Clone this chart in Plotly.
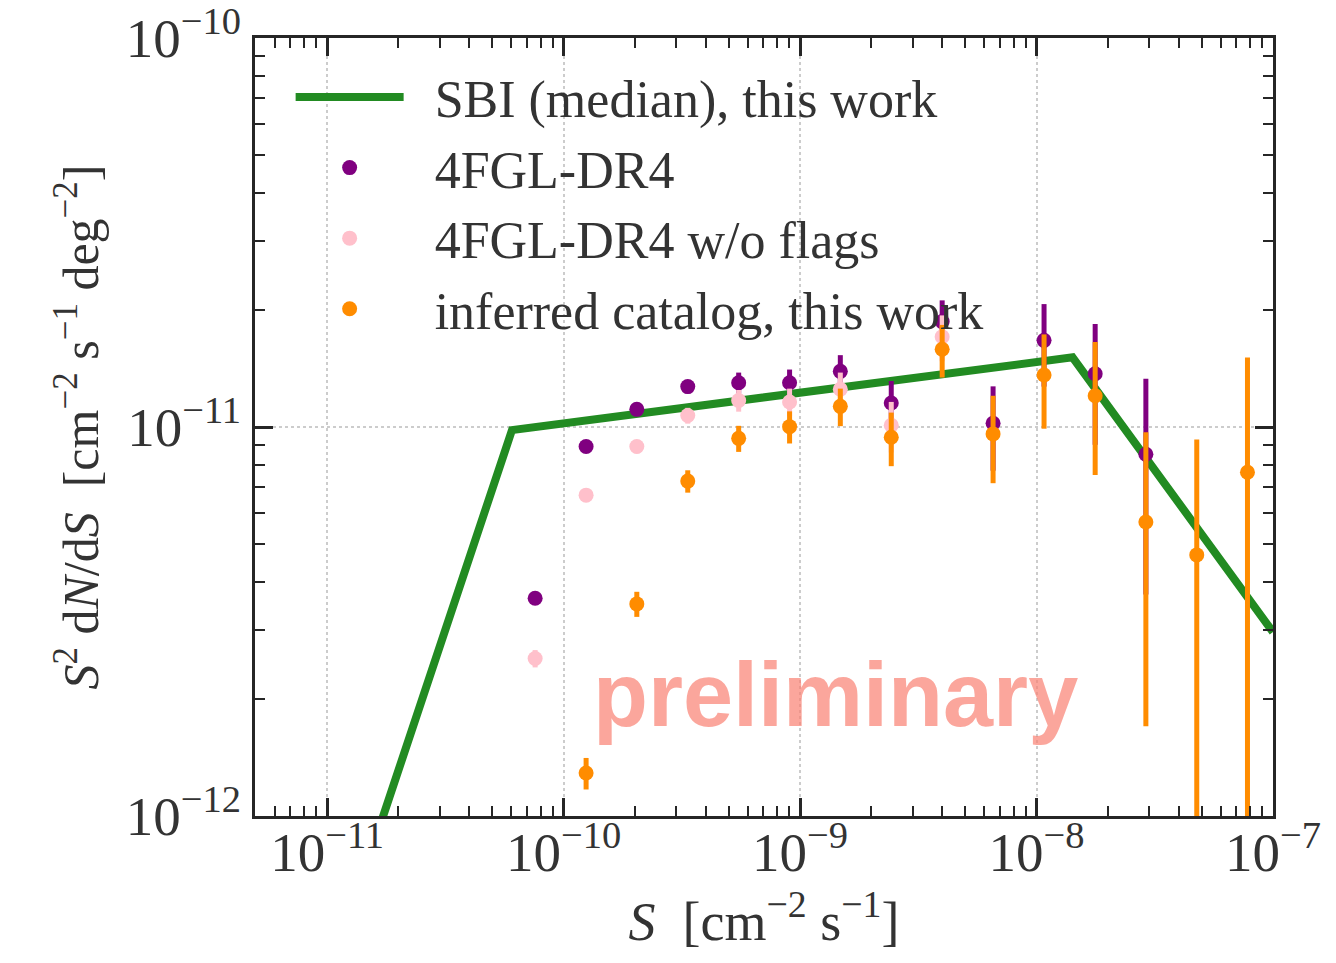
import plotly.graph_objects as go

# ---------------- data ----------------
S_bins = [7.58e-11, 1.245e-10, 2.04e-10, 3.35e-10, 5.50e-10, 9.03e-10, 1.48e-9,
          2.43e-9, 3.99e-9, 6.55e-9, 1.076e-8, 1.77e-8, 2.90e-8, 4.76e-8, 7.80e-8]

dr4_y = [3.63e-12, 8.91e-12, 1.11e-11, 1.27e-11, 1.30e-11, 1.30e-11, 1.39e-11,
         1.153e-11, 1.866e-11, 1.022e-11, 1.67e-11, 1.37e-11, 8.51e-12, None, None]
dr4_err = [0.1e-12, 0.25e-12, 0.35e-12, 0.5e-12, 0.8e-12, 1.05e-12, 1.4e-12,
           1.6e-12, 2.5e-12, 2.5e-12, 4.0e-12, 4.7e-12, 4.8e-12, None, None]

noflag_y = [2.54e-12, 6.68e-12, 8.91e-12, 1.07e-11, 1.17e-11, 1.16e-11, 1.25e-11,
            1.01e-11, 1.706e-11, None, None, None, None, None, None]
noflag_err = [0.13e-12, 0.25e-12, 0.35e-12, 0.5e-12, 0.75e-12, 0.95e-12, 1.3e-12,
              1.5e-12, 2.3e-12, None, None, None, None, None, None]

inferred_y = [None, 1.29e-12, 3.51e-12, 7.26e-12, 9.35e-12, 1.002e-11, 1.13e-11,
              9.41e-12, 1.585e-11, 9.6e-12, 1.36e-11, 1.203e-11, 5.70e-12, 4.69e-12, 7.65e-12]
inferred_err = [None, 0.12e-12, 0.26e-12, 0.48e-12, 0.72e-12, 0.95e-12, 1.25e-12,
                1.48e-12, 2.45e-12, 2.43e-12, 3.7e-12, 4.5e-12, 4.0e-12, 4.6e-12, 7.45e-12]

sbi_S = [1.0e-11, 6.05e-11, 1.42e-8, 1.0e-7]
sbi_y = [3.7e-13, 9.82e-12, 1.51e-11, 2.97e-12]

x_tickvals = [1e-11, 1e-10, 1e-9, 1e-8, 1e-7]
x_ticktext = ["10<sup>\u221211</sup>", "10<sup>\u221210</sup>", "10<sup>\u22129</sup>",
              "10<sup>\u22128</sup>", "10<sup>\u22127</sup>"]
y_tickvals = [1e-12, 1e-11, 1e-10]
y_ticktext = ["10<sup>\u221212</sup>", "10<sup>\u221211</sup>", "10<sup>\u221210</sup>"]

# ---------------- styles ----------------
FONT = "Liberation Serif"
TXT = "#333333"
AX = "#262626"
PAD = "\u00a0\u00a0"

fig = go.Figure()

fig.add_trace(go.Scatter(
    x=sbi_S, y=sbi_y, mode="lines", name=PAD + "SBI (median), this work",
    line=dict(color="#228B22", width=8), legendgroup="a"))

def pts(y, err, color, name, g):
    return go.Scatter(
        x=S_bins, y=y, mode="markers", name=PAD + name, legendgroup=g,
        marker=dict(color=color, size=15),
        error_y=dict(type="data", array=err, symmetric=True, color=color,
                     thickness=5, width=0),
        cliponaxis=True)

fig.add_trace(pts(dr4_y, dr4_err, "#800080", "4FGL-DR4", "b"))
fig.add_trace(pts(noflag_y, noflag_err, "#FFC0CB", "4FGL-DR4 w/o flags", "c"))
fig.add_trace(pts(inferred_y, inferred_err, "#FF8C00", "inferred catalog, this work", "d"))

axis_common = dict(
    type="log", showline=True, linewidth=3, linecolor=AX, mirror="allticks",
    ticks="inside", ticklen=18, tickwidth=3, tickcolor=AX, automargin=False,
    showgrid=True, gridcolor="#cccccc", griddash="dot", gridwidth=2,
    zeroline=False, tickfont=dict(family=FONT, size=55, color=TXT),
    minor=dict(ticks="inside", ticklen=10, tickwidth=2, tickcolor=AX,
               dtick="D1", showgrid=False),
)

fig.update_xaxes(axis_common, range=[-11.305, -7.0], tickmode="array",
                 tickvals=x_tickvals, ticktext=x_ticktext, ticklabelstandoff=-14,
                 title=dict(text="<i>S</i>  [cm<sup>\u22122</sup> s<sup>\u22121</sup>]",
                            font=dict(family=FONT, size=54, color=TXT), standoff=10))
fig.update_yaxes(axis_common, range=[-12, -10], tickmode="array",
                 tickvals=y_tickvals, ticktext=y_ticktext,
                 title=dict(text="<i>S</i><sup>2</sup> d<i>N</i>/d<i>S</i>  [cm<sup>\u22122</sup> s<sup>\u22121</sup> deg<sup>\u22122</sup>]",
                            font=dict(family=FONT, size=50, color=TXT), standoff=12))

fig.add_annotation(
    text="<b>preliminary</b>", xref="paper", yref="paper", x=0.57, y=0.089,
    xanchor="center", yanchor="bottom",
    showarrow=False, font=dict(family="Liberation Sans", size=90,
                               color="rgba(250,128,114,0.7)"))

fig.update_layout(
    width=1336, height=963,
    margin=dict(l=255, r=63, t=38, b=147),
    paper_bgcolor="white", plot_bgcolor="white",
    showlegend=True,
    legend=dict(x=0.035, y=0.976, xanchor="left", yanchor="top",
                bgcolor="rgba(0,0,0,0)", borderwidth=0,
                font=dict(family=FONT, size=52, color=TXT),
                itemwidth=108, tracegroupgap=5, traceorder="normal"),
)

fig.write_html("out.html")
